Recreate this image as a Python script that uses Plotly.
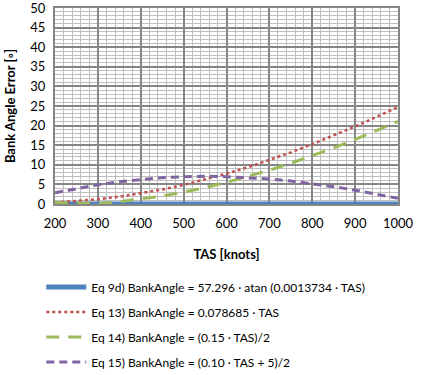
import plotly.graph_objects as go

tas = [200, 250, 300, 350, 400, 450, 500, 550, 600, 650, 700, 750, 800, 850, 900, 950, 1000]
err_9d = [0]*17
err_13 = [0.38, 0.72, 1.20, 1.87, 2.70, 3.69, 4.88, 6.21, 7.73, 9.39, 11.21, 13.16, 15.27, 17.47, 19.79, 22.22, 24.74]
err_14 = [0.36, 0.20, 0.10, 0.58, 1.23, 2.03, 3.04, 4.18, 5.52, 6.99, 8.63, 10.40, 12.32, 14.33, 16.47, 18.72, 21.05]
err_15 = [2.86, 3.95, 4.90, 5.67, 6.27, 6.72, 6.96, 7.07, 6.98, 6.76, 6.37, 5.85, 5.18, 4.42, 3.53, 2.53, 1.45]

names = ["Eq 9d) BankAngle = 57.296 · atan (0.0013734 · TAS)",
         "Eq 13) BankAngle = 0.078685 · TAS",
         "Eq 14) BankAngle = (0.15 · TAS)/2",
         "Eq 15) BankAngle = (0.10 · TAS + 5)/2"]

font = "Lato, Open Sans, sans-serif"
fig = go.Figure()
fig.add_trace(go.Scatter(x=tas, y=err_9d, name=names[0], mode="lines", legendgroup="a",
                         line=dict(color="#4F81BD", width=5)))
fig.add_trace(go.Scatter(x=tas, y=err_13, name=names[1], mode="lines", legendgroup="b",
                         line=dict(color="#C0504D", width=2.5, dash="dot")))
fig.add_trace(go.Scatter(x=tas, y=err_14, name=names[2], mode="lines", legendgroup="c",
                         line=dict(color="#9BBB59", width=3, dash="13px,9px")))
fig.add_trace(go.Scatter(x=tas, y=err_15, name=names[3], mode="lines", legendgroup="d",
                         line=dict(color="#8064A2", width=3, dash="8px,5px")))

fig.update_layout(
    width=423, height=375,
    margin=dict(l=55, r=25, t=8, b=171, autoexpand=False),
    plot_bgcolor="white", paper_bgcolor="white",
    font=dict(family=font, size=13, color="black"),
    showlegend=True,
    legend=dict(x=-0.04, y=-0.35, xanchor="left", yanchor="top",
                font=dict(size=12), tracegroupgap=6, itemwidth=40,
                bgcolor="rgba(0,0,0,0)"),
    xaxis=dict(range=[200, 1000], dtick=100, showgrid=True, gridcolor="#868686", gridwidth=2,
               minor=dict(dtick=20, showgrid=True, gridcolor="#BFBFBF", gridwidth=1),
               zeroline=False, showline=True, linecolor="#868686", linewidth=2, mirror=True,
               ticks="", ticklabelstandoff=6, ticklabeloverflow="allow",
               title=dict(text="<b>TAS [knots]</b>", font=dict(size=13), standoff=20)),
    yaxis=dict(range=[0, 50], dtick=5, showgrid=True, gridcolor="#868686", gridwidth=2,
               minor=dict(dtick=1, showgrid=True, gridcolor="#BFBFBF", gridwidth=1),
               zeroline=False, showline=True, linecolor="#868686", linewidth=2, mirror=True,
               ticks="", ticklabelstandoff=5, ticklabeloverflow="allow",
               title=dict(text="<b>Bank Angle Error [◦]</b>", font=dict(size=13), standoff=12)),
)
fig.write_html("out.html", config={"displayModeBar": False})

with open("out.html", "r", encoding="utf-8") as f:
    html = f.read()
html = html.replace("<head>", "<head><style>html,body{margin:0;padding:0;overflow:hidden}</style>", 1)
with open("out.html", "w", encoding="utf-8") as f:
    f.write(html)
